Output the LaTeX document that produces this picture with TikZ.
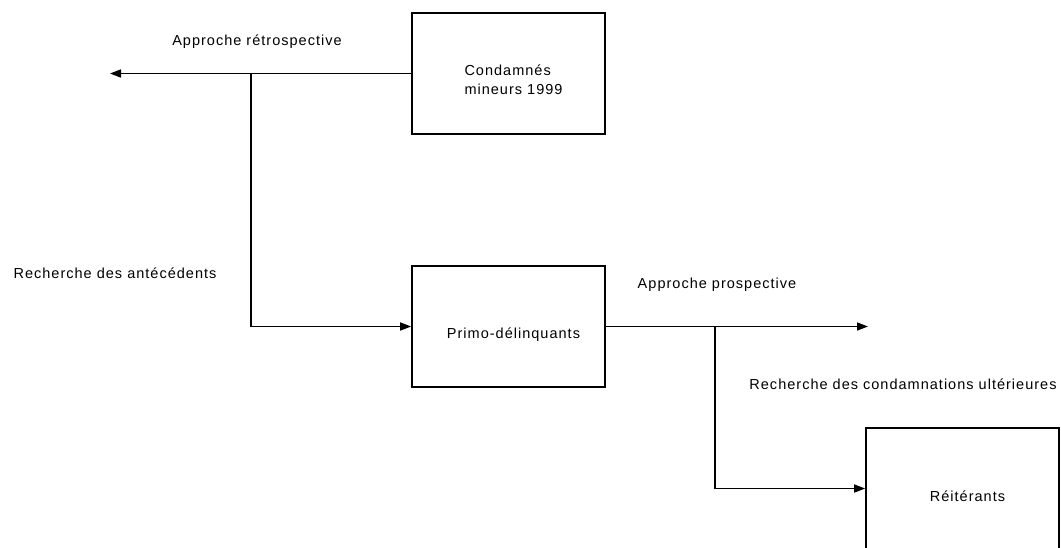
\documentclass[tikz,border=0pt]{standalone}
\usepackage{fontspec}
\setmainfont{Liberation Sans}[LetterSpace=7]
\usetikzlibrary{arrows.meta}
\newcommand{\inbox}[1]{\hspace*{10pt}\raisebox{-8pt}[\height][\depth]{#1}}

\begin{document}
\begin{tikzpicture}[x=1pt, y=-1pt, line width=1.6pt, >={Triangle[length=11pt,width=8pt]},
  font=\fontsize{14.5}{19}\selectfont]
  \tikzstyle{every node}=[inner sep=0pt]
  \tikzstyle{group}=[draw, minimum width=193pt, minimum height=121pt]
  \clip (0,0) rectangle (1061,547);
  \node[group] (condamnes)  at (508.5,73.5)  {\inbox{\begin{tabular}{@{}l@{}}Condamnés\\mineurs 1999\end{tabular}}};
  \node[group] (primo)      at (508.5,326.5) {\inbox{Primo-délinquants}};
  \node[group] (reiterants) at (962.5,488.5) {\inbox{Réitérants}};

  \coordinate (retroEnd)   at (110,73.5);
  \coordinate (retroSplit) at (251,73.5);
  \coordinate (prospEnd)   at (868,326.5);
  \coordinate (prospSplit) at (715,326.5);

  \draw[->] (condamnes.west) -- (retroEnd);
  \draw[->] (retroSplit) |- (primo.west);
  \draw[->] (primo.east) -- (prospEnd);
  \draw[->] (prospSplit) |- (reiterants.west);

  \node (retroLabel) at (257,42)  {Approche rétrospective};
  \node (anteLabel)  at (115,273) {Recherche des antécédents};
  \node (prospLabel) at (717,285) {Approche prospective};
  \node (ulterLabel) at (903,384) {Recherche des condamnations ultérieures};
\end{tikzpicture}
\end{document}
